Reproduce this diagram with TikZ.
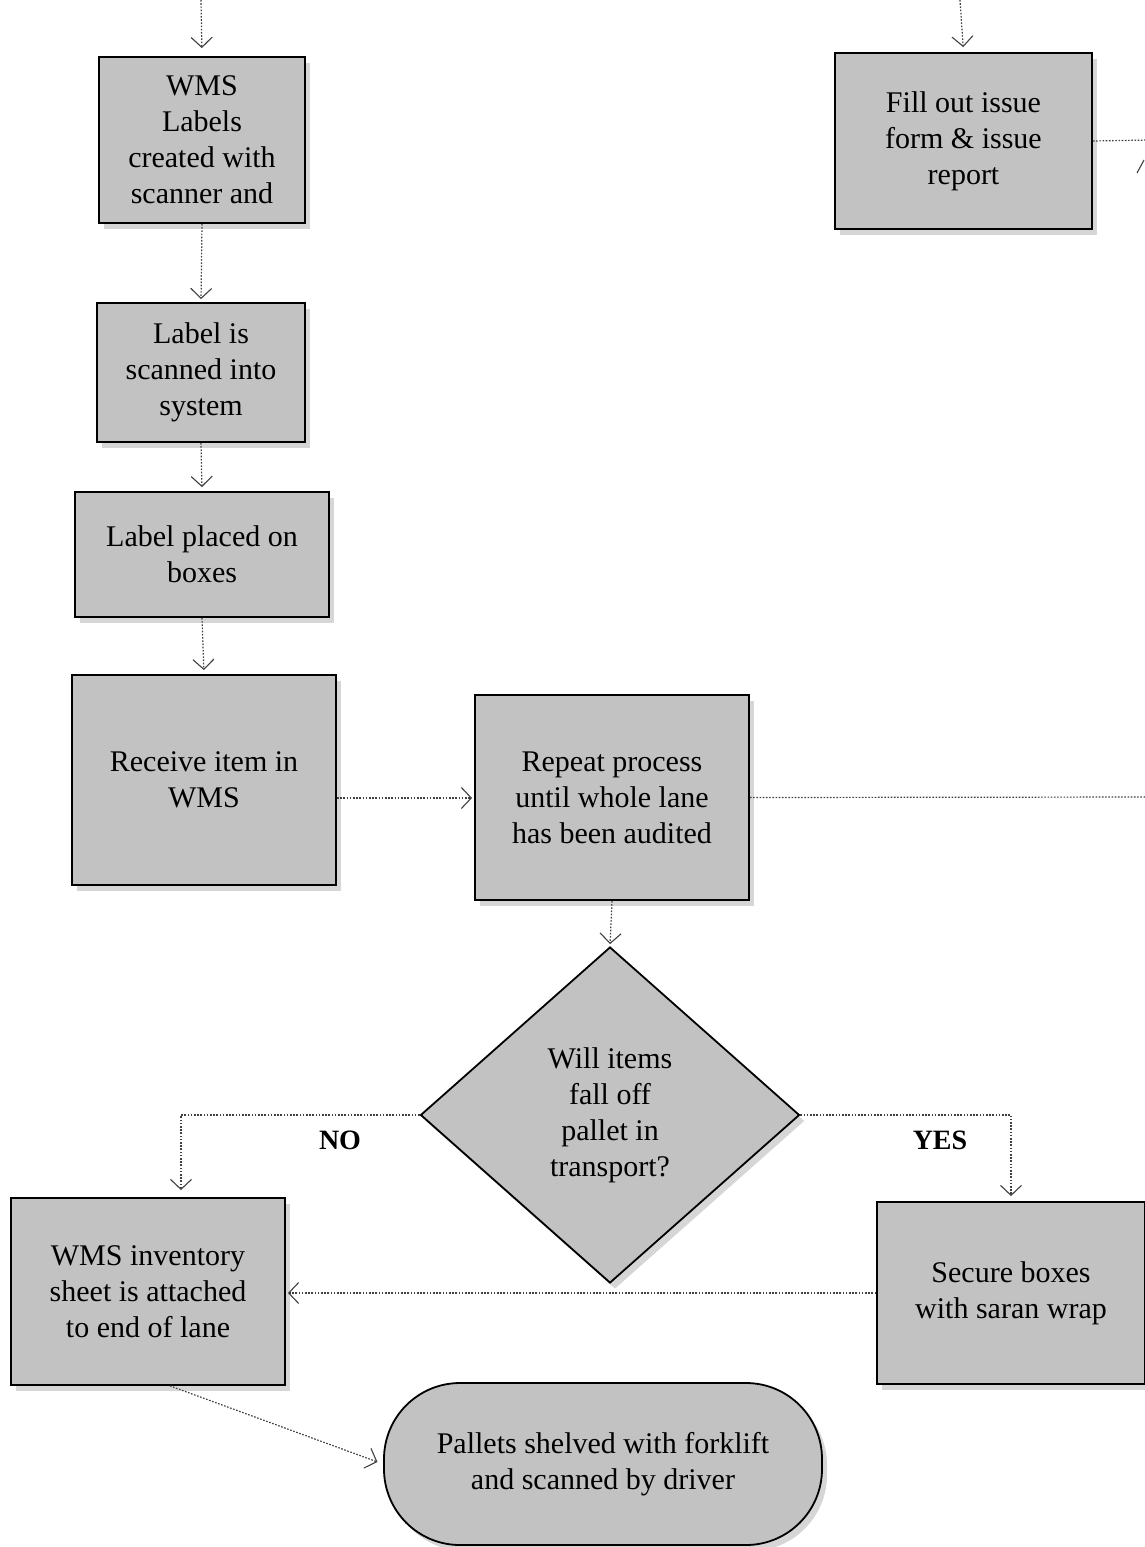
\documentclass[tikz,border=0pt]{standalone}
\usepackage{fontspec}
\setmainfont{Liberation Serif}
\usetikzlibrary{arrows.meta,shapes.geometric,shadows,calc}

\tikzset{
  procbox/.style={draw=black, line width=1.8pt, fill=black!24,
    drop shadow={shadow xshift=5pt, shadow yshift=-6pt, fill=black!16, opacity=1},
    align=center, inner sep=2pt,
    font=\fontsize{30}{36}\selectfont},
  decision/.style={procbox, diamond, aspect=1.13, inner sep=0pt},
  terminal/.style={procbox, rounded corners=76pt},
  conn/.style={draw=black!75, line width=1.2pt, dash pattern=on 1.6pt off 1.6pt,
    -{Straight Barb[length=10pt, width=21pt, line width=1.1pt]}},
  plainconn/.style={draw=black!75, line width=1.2pt, dash pattern=on 1.6pt off 1.6pt},
  answer/.style={font=\bfseries\fontsize{28}{34}\selectfont}
}

\begin{document}
\begin{tikzpicture}[x=1pt, y=-1pt]
\useasboundingbox (0,0) rectangle (1144,1547);

% left column of process steps
\node[procbox, minimum width=206pt, minimum height=166pt] (b1) at (202,140)
  {WMS\\Labels\\created with\\scanner and};
\node[procbox, minimum width=208pt, minimum height=139pt] (b2) at (201,372.5)
  {Label is\\scanned into\\system};
\node[procbox, minimum width=254pt, minimum height=125pt] (b3) at (202,554.5)
  {Label placed on\\boxes};
\node[procbox, minimum width=264pt, minimum height=210pt] (b4) at (204,780)
  {Receive item in\\WMS};
\node[procbox, minimum width=274pt, minimum height=205pt] (b5) at (612,797.5)
  {Repeat process\\until whole lane\\has been audited};

% decision and its branches
\node[decision, minimum width=379pt, minimum height=336pt] (d) at (610,1115)
  {Will items\\fall off\\pallet in\\transport?};
\node[procbox, minimum width=274pt, minimum height=187pt] (b6) at (148,1291.5)
  {WMS inventory\\sheet is attached\\to end of lane};
\node[procbox, minimum width=268pt, minimum height=182pt] (b7) at (1011,1293)
  {Secure boxes\\with saran wrap};
\node[terminal, minimum width=438pt, minimum height=162pt] (t) at (603,1464)
  {Pallets shelved with forklift\\and scanned by driver};

% issue branch, top right
\node[procbox, minimum width=257pt, minimum height=176pt] (b8) at (963.5,141)
  {Fill out issue\\form \& issue\\report};

% incoming and outgoing ends
\coordinate (in1) at (201,0);
\coordinate (in8) at (960,0);
\coordinate (out5) at (1150,797);
\coordinate (out8) at (1150,140);

% connectors
\draw[conn, shorten >=8pt] (in1) -- (b1.north);
\draw[conn, shorten >=3pt] (b1.south) -- (b2.north);
\draw[conn, shorten >=4pt] (b2.south) -- (b3.north);
\draw[conn, shorten >=4pt] (b3.south) -- (b4.north);
\draw[conn, shorten >=2pt] (b4.east |- 0,798) -- (b5.west |- 0,798);
\draw[plainconn] (b5.east) -- (out5);
\draw[conn, shorten >=2pt] (b5.south) -- (d.north);
\draw[conn, shorten >=7pt] (d.west) -| ([xshift=33pt]b6.north);
\draw[conn, shorten >=5pt] (d.east) -| (b7.north);
\draw[conn, shorten >=2pt] (b7.west) -- (b7.west -| b6.east);
\draw[conn, shorten >=6pt] ([xshift=22pt]b6.south) -- (t.west);
\draw[conn, shorten >=5pt] (in8) -- (b8.north);
\draw[plainconn] (b8.east) -- (out8);
\draw[draw=black!75, line width=1.1pt] (1137,173) -- (1144,160);

% branch labels
\node[answer] (no) at (340,1140) {NO};
\node[answer] (yes) at (940,1140) {YES};

\end{tikzpicture}
\end{document}
